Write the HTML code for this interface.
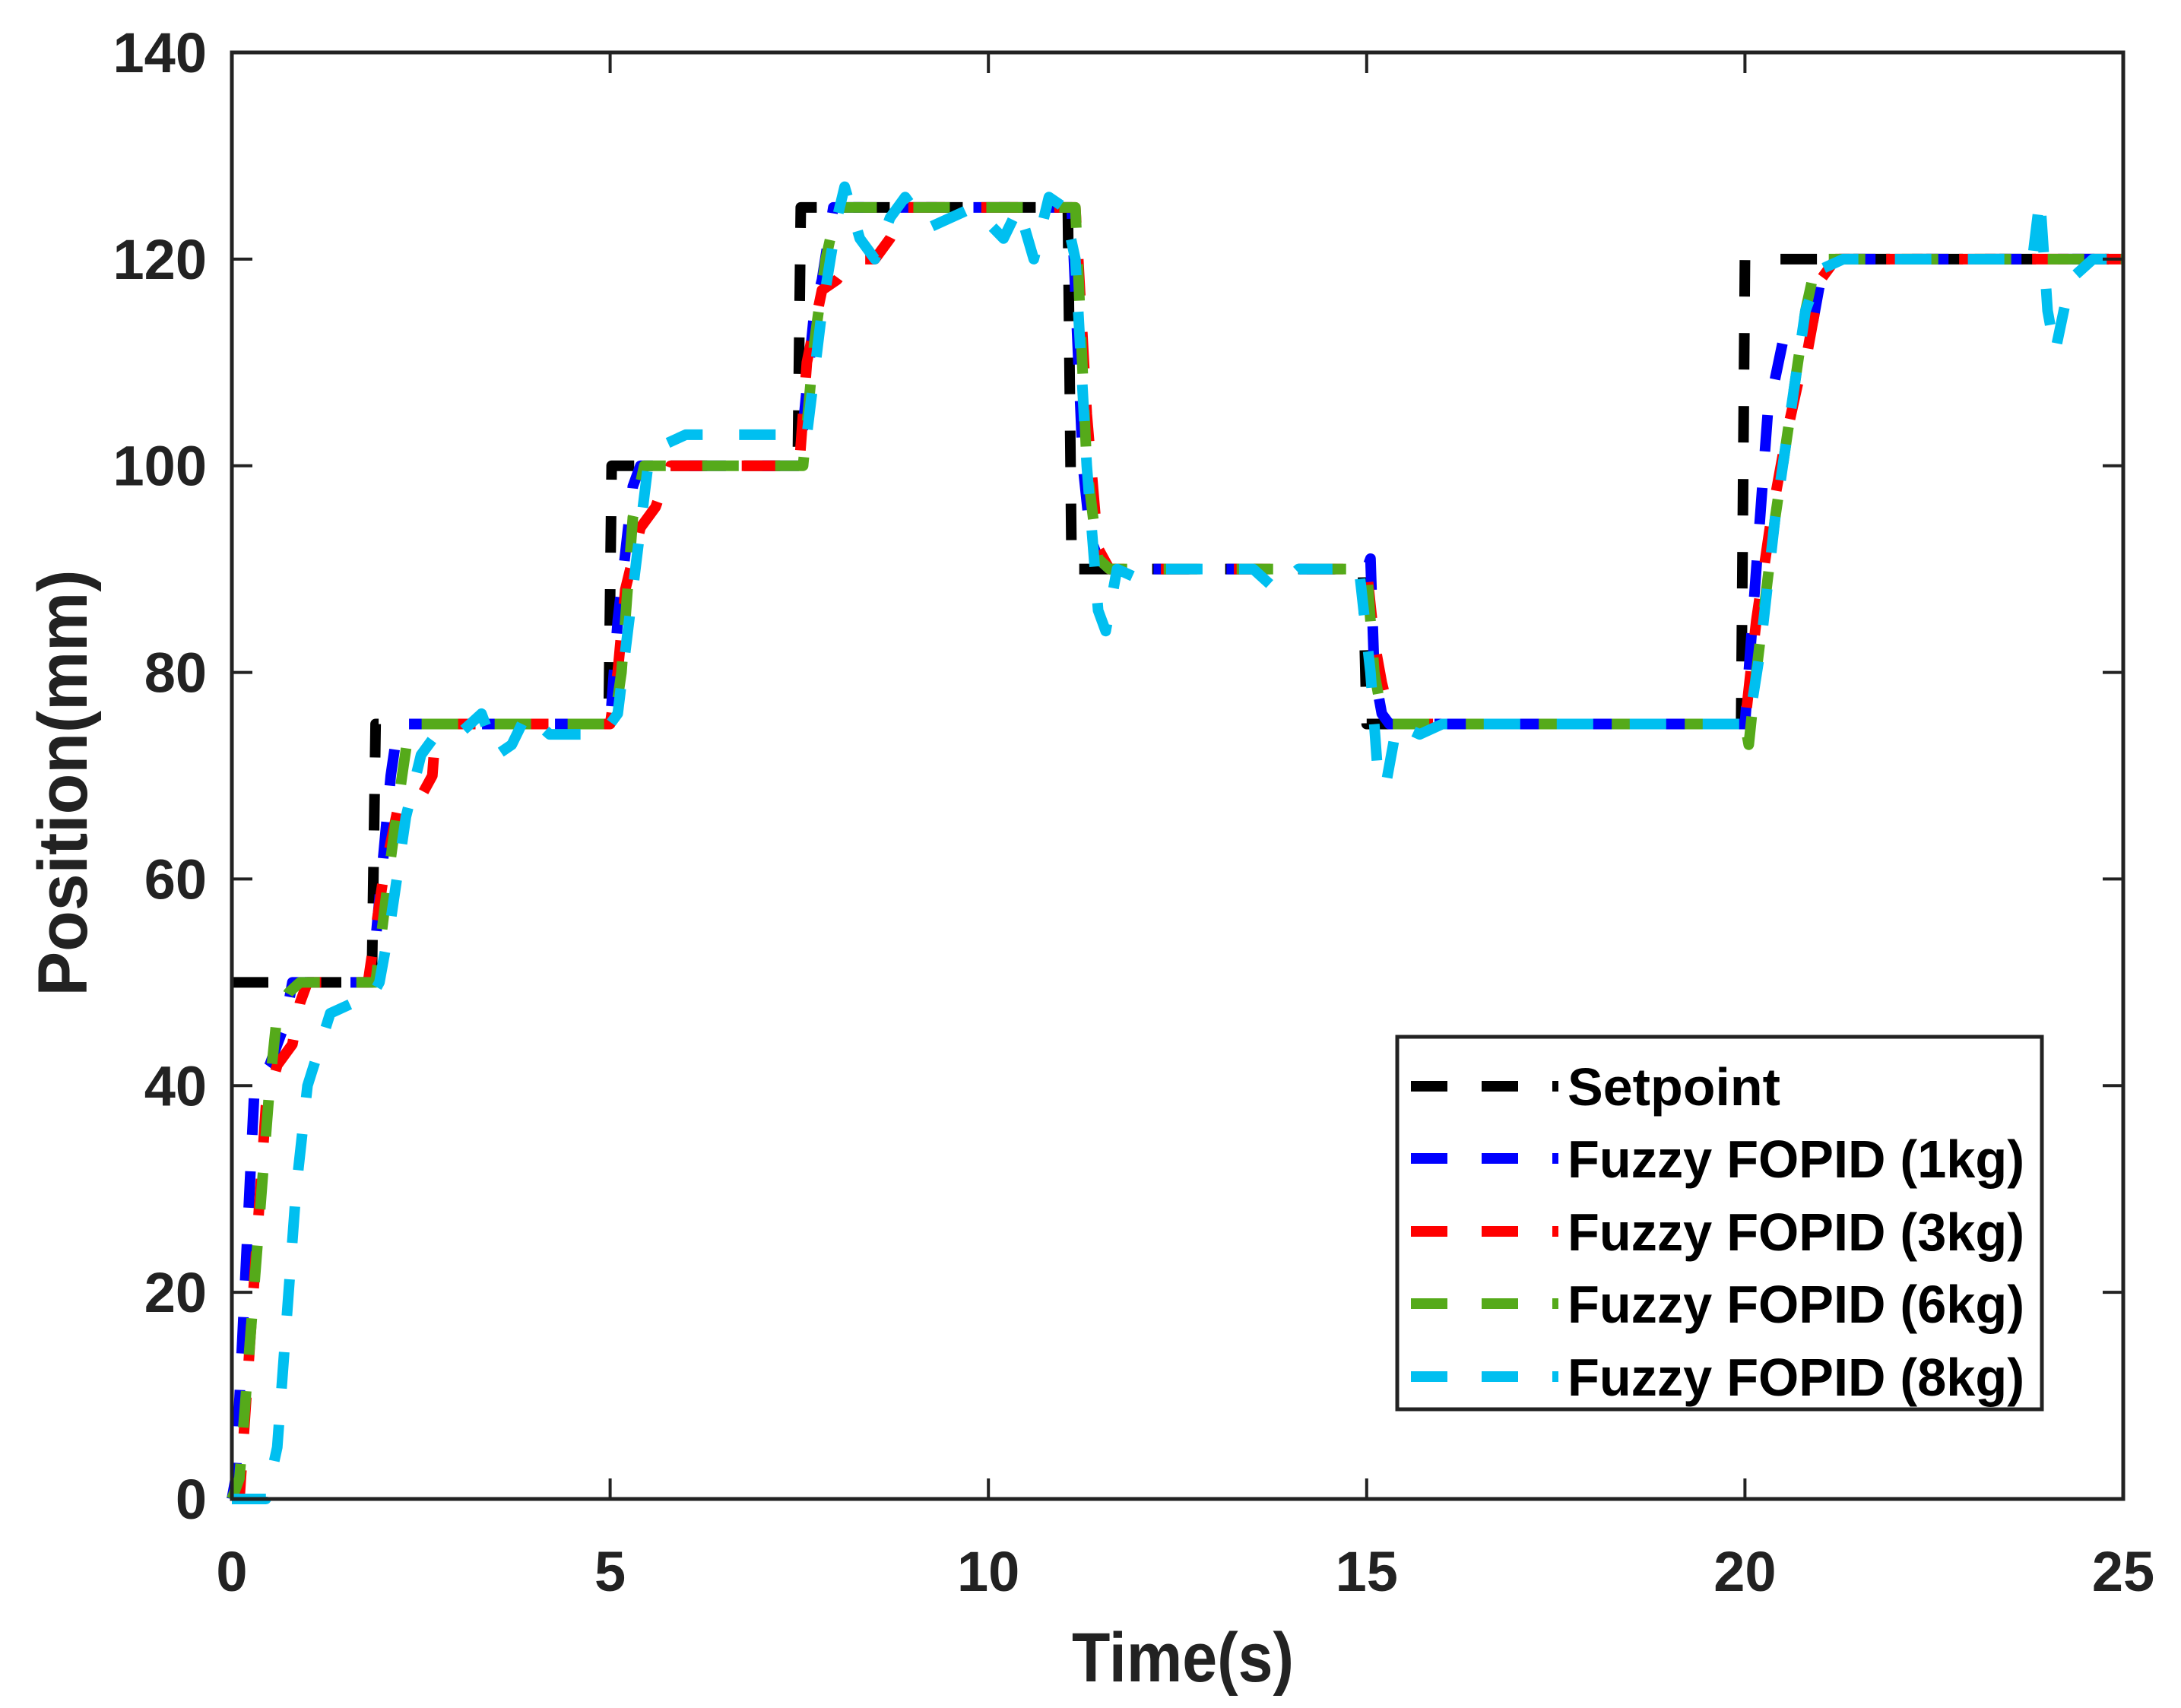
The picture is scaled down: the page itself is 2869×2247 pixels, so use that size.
<!DOCTYPE html>
<html><head><meta charset="utf-8"><style>
html,body{margin:0;padding:0;background:#fff;}
svg{display:block;}
text{font-family:"Liberation Sans",Arial,sans-serif;font-weight:bold;fill:#222;}
</style></head><body>
<svg id="chart" width="2869" height="2247" viewBox="0 0 2869 2247" xmlns="http://www.w3.org/2000/svg">
<rect x="0" y="0" width="2869" height="2247" fill="#fff"/>
<g id="series"></g>
<g id="axes"></g>
<g id="legend"></g>
</svg>
<script>
const xTicks = [0, 5, 10, 15, 20, 25];
const yTicks = [0, 20, 40, 60, 80, 100, 120, 140];
const seriesNames = ["Setpoint", "Fuzzy FOPID (1kg)", "Fuzzy FOPID (3kg)", "Fuzzy FOPID (6kg)", "Fuzzy FOPID (8kg)"];
const seriesColors = ["#000000", "#0000ff", "#ff0000", "#55aa1a", "#00bff0"];
const setpoint = [[0,50],[1.85,50],[1.9,75],[4.98,75],[5.02,100],[7.48,100],[7.52,125],[11.05,125],[11.1,90],[14.95,90],[15,75],[19.95,75],[20,120],[25,120]];
const kg1 = [[0,0],[0.05,2],[0.3,40],[0.5,42],[0.7,46],[0.8,50],[1.85,50],[2.1,70],[2.2,75],[5.0,75],[5.1,85],[5.3,98],[5.4,100],[7.5,100],[7.7,115],[7.8,118],[7.95,125],[11.1,125],[11.25,100],[11.35,93],[11.45,91],[11.6,90],[15,90],[15.05,91],[15.1,80],[15.2,76],[15.3,75],[20,75],[20.15,90],[20.3,105],[20.5,112],[20.7,113],[20.9,114],[21,118],[21.2,120],[25,120]];
const kg3 = [[0,0],[0.1,0],[0.45,38],[0.6,42],[0.8,44],[0.9,48],[1.0,50],[1.8,50],[2.0,60],[2.2,67],[2.5,68],[2.65,70],[2.7,75],[5.0,75],[5.1,80],[5.2,88],[5.4,94],[5.6,96],[5.8,100],[7.5,100],[7.6,110],[7.8,117],[8.0,118],[8.2,120],[8.5,120],[8.7,122],[8.9,125],[11.15,125],[11.3,105],[11.45,92],[11.6,90],[15,90],[15.1,83],[15.2,79],[15.3,76],[15.4,75],[20,75],[20.15,85],[20.35,95],[20.55,103],[20.7,108],[20.8,110],[21,118],[21.2,120],[25,120]];
const kg6 = [[0,0],[0.1,2],[0.5,40],[0.6,47],[0.75,49],[0.9,50],[1.9,50],[2.1,62],[2.25,70],[2.35,75],[5.05,75],[5.15,80],[5.3,95],[5.45,100],[7.55,100],[7.7,112],[7.85,120],[8.0,125],[11.15,125],[11.3,100],[11.45,91],[11.6,90],[15,90],[15.1,80],[15.2,76],[15.3,75],[20,75],[20.05,73],[20.15,80],[20.4,95],[20.6,105],[20.8,115],[20.95,120],[25,120]];
const kg8 = [[0,0],[0.45,0],[0.6,5],[0.85,30],[1.0,40],[1.3,47],[1.6,48],[1.8,48],[1.95,50],[2.1,56],[2.3,66],[2.5,72],[2.7,74],[3.0,74],[3.3,76],[3.5,72],[3.7,73],[3.9,76],[4.2,74],[4.5,74],[4.9,74],[5.1,76],[5.3,88],[5.5,100],[5.7,102],[6.0,103],[6.4,103],[7.5,103],[7.6,103],[7.8,115],[8.0,124],[8.1,127],[8.3,122],[8.5,120],[8.7,124],[8.9,126],[9.2,123],[9.5,124],[9.8,125],[10.2,122],[10.4,125],[10.6,120],[10.8,126],[11.0,125],[11.15,120],[11.3,100],[11.45,86],[11.55,84],[11.7,90],[12.0,89],[12.3,90],[12.6,90],[13.0,90],[13.5,90],[13.8,88],[14.1,90],[14.9,90],[15.05,80],[15.15,70],[15.25,69],[15.4,75],[15.7,74],[16,75],[20.05,75],[20.2,82],[20.4,95],[20.6,105],[20.8,115],[21.0,119],[21.3,120],[23.8,120],[23.9,126],[24.0,115],[24.1,111],[24.3,118],[24.6,120],[25,120]];
const allSeries = [setpoint, kg1, kg3, kg6, kg8];

const NS = "http://www.w3.org/2000/svg";
const L = 305, R = 2793, T = 69, B = 1972;
const X0 = 0, X1 = 25, Y0 = 0, Y1 = 140;
function sx(t){ return L + (t - X0) / (X1 - X0) * (R - L); }
function sy(v){ return B - (v - Y0) / (Y1 - Y0) * (B - T); }
function mk(tag, attrs, parent){ const e = document.createElementNS(NS, tag); for (const k in attrs) e.setAttribute(k, attrs[k]); parent.appendChild(e); return e; }

const gS = document.getElementById('series');
const gA = document.getElementById('axes');
const gL = document.getElementById('legend');

allSeries.forEach((s, i) => {
  const d = s.map((p, j) => (j ? 'L' : 'M') + sx(p[0]).toFixed(1) + ' ' + sy(p[1]).toFixed(1)).join(' ');
  const p = mk('path', {d: d, fill: 'none', stroke: seriesColors[i], 'stroke-width': 14, 'stroke-dasharray': '48 48', 'stroke-linejoin': 'round'}, gS);
  
  
});

const frame = mk('rect', {x: L, y: T, width: R - L, height: B - T, fill: 'none', stroke: '#222', 'stroke-width': 5}, gA);



xTicks.forEach(t => {
  const x = sx(t);
  const tk = mk('path', {d: `M${x} ${B} V${B-27} M${x} ${T} V${T+27}`, stroke: '#222', 'stroke-width': 4}, gA);
  
  
  const tx = mk('text', {x: x, y: 2093, 'font-size': 74, 'text-anchor': 'middle'}, gA);
  tx.textContent = t;
  
  
});
yTicks.forEach(v => {
  const y = sy(v);
  const tk = mk('path', {d: `M${L} ${y} H${L+27} M${R} ${y} H${R-27}`, stroke: '#222', 'stroke-width': 4}, gA);
  
  
  const tx = mk('text', {x: 272, y: y + 26, 'font-size': 74, 'text-anchor': 'end'}, gA);
  tx.textContent = v;
  
  
});

const xt = mk('text', {x: 1556, y: 2212, 'font-size': 92, 'text-anchor': 'middle', textLength: 292, lengthAdjust: 'spacingAndGlyphs'}, gA);
xt.textContent = 'Time(s)';


const yt = mk('text', {x: 0, y: 0, 'font-size': 92, 'text-anchor': 'middle', textLength: 561, lengthAdjust: 'spacingAndGlyphs', transform: 'translate(114 1030) rotate(-90)'}, gA);
yt.textContent = 'Position(mm)';



const lb = mk('rect', {x: 1838, y: 1364, width: 848, height: 490, fill: '#fff', stroke: '#222', 'stroke-width': 5}, gL);


const rowY = [1429, 1524, 1620, 1715, 1811];
seriesNames.forEach((n, i) => {
  const g = mk('g', {}, gL);
  
  
  mk('path', {d: `M1856 ${rowY[i]} H2050`, stroke: seriesColors[i], 'stroke-width': 14, 'stroke-dasharray': '48 45'}, g);
  const tx = mk('text', {x: 2062, y: rowY[i] + 25, 'font-size': 70}, g);
  tx.textContent = n;
  if (i === 0) tx.setAttribute('textLength', 280); else tx.setAttribute('textLength', 601);
  tx.setAttribute('lengthAdjust', 'spacingAndGlyphs');
  tx.style.fill = '#000';
});
</script>
</body></html>
